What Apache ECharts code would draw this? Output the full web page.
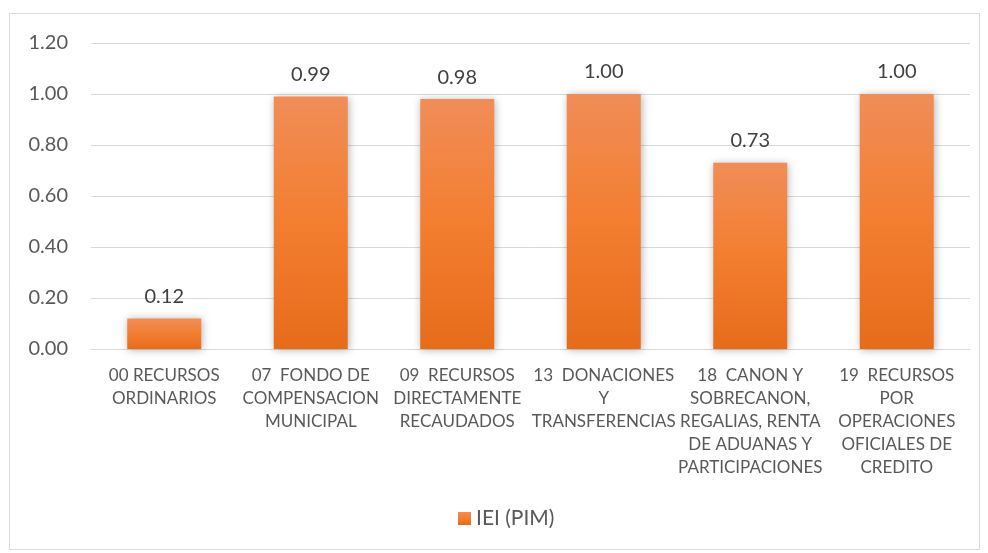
<!DOCTYPE html>
<html>
<head>
<meta charset="utf-8">
<script src="https://cdn.jsdelivr.net/npm/echarts@6/dist/echarts.min.js"></script>
<style>
html,body{margin:0;padding:0;background:#fff;}
#chart{width:988px;height:553px;}
</style>
</head>
<body>
<div id="chart"></div>
<script>
const categories = [
  "00 RECURSOS\nORDINARIOS",
  "07  FONDO DE\nCOMPENSACION\nMUNICIPAL",
  "09  RECURSOS\nDIRECTAMENTE\nRECAUDADOS",
  "13  DONACIONES\nY\nTRANSFERENCIAS",
  "18  CANON Y\nSOBRECANON,\nREGALIAS, RENTA\nDE ADUANAS Y\nPARTICIPACIONES",
  "19  RECURSOS\nPOR\nOPERACIONES\nOFICIALES DE\nCREDITO"
];
const seriesName = "IEI (PIM)";
const values = [0.12, 0.99, 0.98, 1.00, 0.73, 1.00];
const yTicks = {min: 0, max: 1.2, interval: 0.2};

const FONT = "Lato, 'Open Sans', sans-serif";
const chart = echarts.init(document.getElementById('chart'));
chart.setOption({
  animation: false,
  graphic: [{
    type: 'rect', shape: {x: 9.5, y: 13.5, width: 970, height: 536},
    style: {fill: 'none', stroke: '#d9d9d9', lineWidth: 1}, z: -1
  }],
  grid: {left: 91, right: 18, top: 43, bottom: 204},
  legend: {
    bottom: 19, left: 453,
    itemWidth: 13, itemHeight: 13, icon: 'rect', itemGap: 10,
    textStyle: {color: '#595959', fontSize: 21, fontFamily: FONT},
    data: [seriesName]
  },
  xAxis: {
    type: 'category', data: categories,
    axisLine: {lineStyle: {color: '#d9d9d9'}},
    axisTick: {show: false},
    axisLabel: {color: '#595959', fontSize: 17, fontFamily: FONT, lineHeight: 23.1, margin: 15, interval: 0}
  },
  yAxis: {
    type: 'value', min: yTicks.min, max: yTicks.max, interval: yTicks.interval,
    axisLine: {show: false}, axisTick: {show: false},
    splitLine: {lineStyle: {color: '#d9d9d9'}},
    axisLabel: {color: '#595959', fontSize: 20, fontFamily: FONT, margin: 23,
      formatter: v => v.toFixed(2)}
  },
  series: [{
    name: seriesName, type: 'bar', data: values, barWidth: 74,
    itemStyle: {
      color: new echarts.graphic.LinearGradient(0, 0, 0, 1, [
        {offset: 0, color: '#f08d58'},
        {offset: 0.5, color: '#f37e30'},
        {offset: 1, color: '#e66c1a'}
      ]),
      shadowBlur: 8, shadowColor: 'rgba(0,0,0,0.3)', shadowOffsetX: 1, shadowOffsetY: 1
    },
    label: {show: true, position: 'top', distance: 12, color: '#404040', fontSize: 20,
      fontFamily: FONT, formatter: p => p.value.toFixed(2)}
  }]
});
</script>
</body>
</html>
